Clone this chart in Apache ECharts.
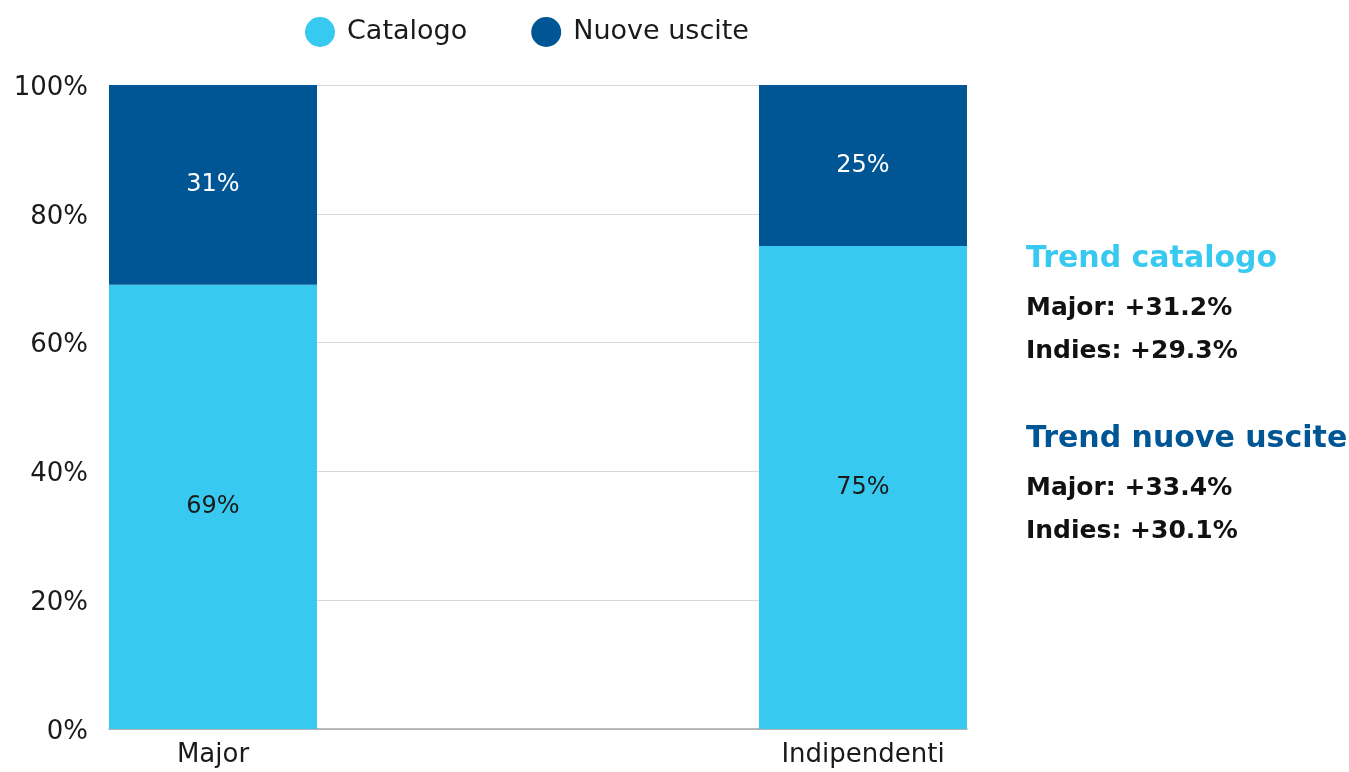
<!DOCTYPE html>
<html lang="it">
<head>
<meta charset="UTF-8">
<title>Catalogo vs nuove uscite</title>
<script src="https://cdn.jsdelivr.net/npm/echarts@6/dist/echarts.min.js"></script>
<style>
  html, body {margin: 0; padding: 0; background: #fff;}
  #main {width: 1349px; height: 772px;}
</style>
</head>
<body>
<div id="main"></div>
<script>
// dati
var categories = ['Major', 'Indipendenti'];
var catalogo = [69, 75];
var nuoveUscite = [31, 25];
var yTicks = [0, 20, 40, 60, 80, 100];

var trendCatalogo = ['Major: +31.2%', 'Indies: +29.3%'];
var trendNuove = ['Major: +33.4%', 'Indies: +30.1%'];

var FONT = 'DejaVu Sans';
var LIGHT = '#38c9f0';
var DARK = '#005694';

var chart = echarts.init(document.getElementById('main'));

function sideText(txt, y, color, size) {
  return {
    type: 'text',
    left: 1026,
    top: y - size * 0.43,
    style: {
      text: txt,
      fill: color,
      font: 'bold ' + size + 'px "' + FONT + '"'
    }
  };
}

chart.setOption({
  animation: false,
  textStyle: {fontFamily: FONT},
  legend: {
    top: 12,
    left: 300,
    itemWidth: 30,
    itemHeight: 30,
    itemGap: 64,
    icon: 'circle',
    textStyle: {fontSize: 27, color: '#1a1a1a', fontFamily: FONT, padding: [0, 0, 0, 7]},
    data: ['Catalogo', 'Nuove uscite']
  },
  grid: [
    {left: 109, right: 382, top: 85, bottom: 43},
    {left: 213, right: 486, top: 85, bottom: 43}
  ],
  xAxis: [
    {
      gridIndex: 0, type: 'value', min: 0, max: 1,
      axisLine: {show: true, lineStyle: {color: '#a6a6a6', width: 1.5}},
      axisTick: {show: false}, axisLabel: {show: false}, splitLine: {show: false}
    },
    {
      gridIndex: 1, type: 'category', boundaryGap: false, data: categories,
      axisLine: {show: false}, axisTick: {show: false},
      axisLabel: {fontSize: 26, color: '#1a1a1a', margin: 13, fontFamily: FONT}
    }
  ],
  yAxis: [
    {
      gridIndex: 0, type: 'value', min: yTicks[0], max: yTicks[yTicks.length - 1], interval: 20,
      axisLine: {show: false}, axisTick: {show: false},
      axisLabel: {fontSize: 26, color: '#1a1a1a', margin: 21, fontFamily: FONT,
        formatter: '{value}%', verticalAlign: 'top', lineHeight: 6},
      splitLine: {lineStyle: {color: '#d9d9d9', width: 1}}
    },
    {
      gridIndex: 1, type: 'value', min: 0, max: 100, show: false, splitLine: {show: false}
    }
  ],
  series: [
    {
      name: 'Catalogo', type: 'bar', stack: 'tot', xAxisIndex: 1, yAxisIndex: 1,
      barWidth: 208, data: catalogo,
      itemStyle: {color: LIGHT},
      label: {show: true, position: 'inside', formatter: '{c}%', fontSize: 24, color: '#1a1a1a', fontFamily: FONT}
    },
    {
      name: 'Nuove uscite', type: 'bar', stack: 'tot', xAxisIndex: 1, yAxisIndex: 1,
      barWidth: 208, data: nuoveUscite,
      itemStyle: {color: DARK},
      label: {show: true, position: 'inside', formatter: '{c}%', fontSize: 24, color: '#ffffff', fontFamily: FONT}
    }
  ],
  graphic: [
    sideText('Trend catalogo', 257, LIGHT, 30),
    sideText(trendCatalogo[0], 307, '#111', 25),
    sideText(trendCatalogo[1], 350, '#111', 25),
    sideText('Trend nuove uscite', 437, DARK, 30),
    sideText(trendNuove[0], 487, '#111', 25),
    sideText(trendNuove[1], 530, '#111', 25)
  ]
});
</script>
</body>
</html>
